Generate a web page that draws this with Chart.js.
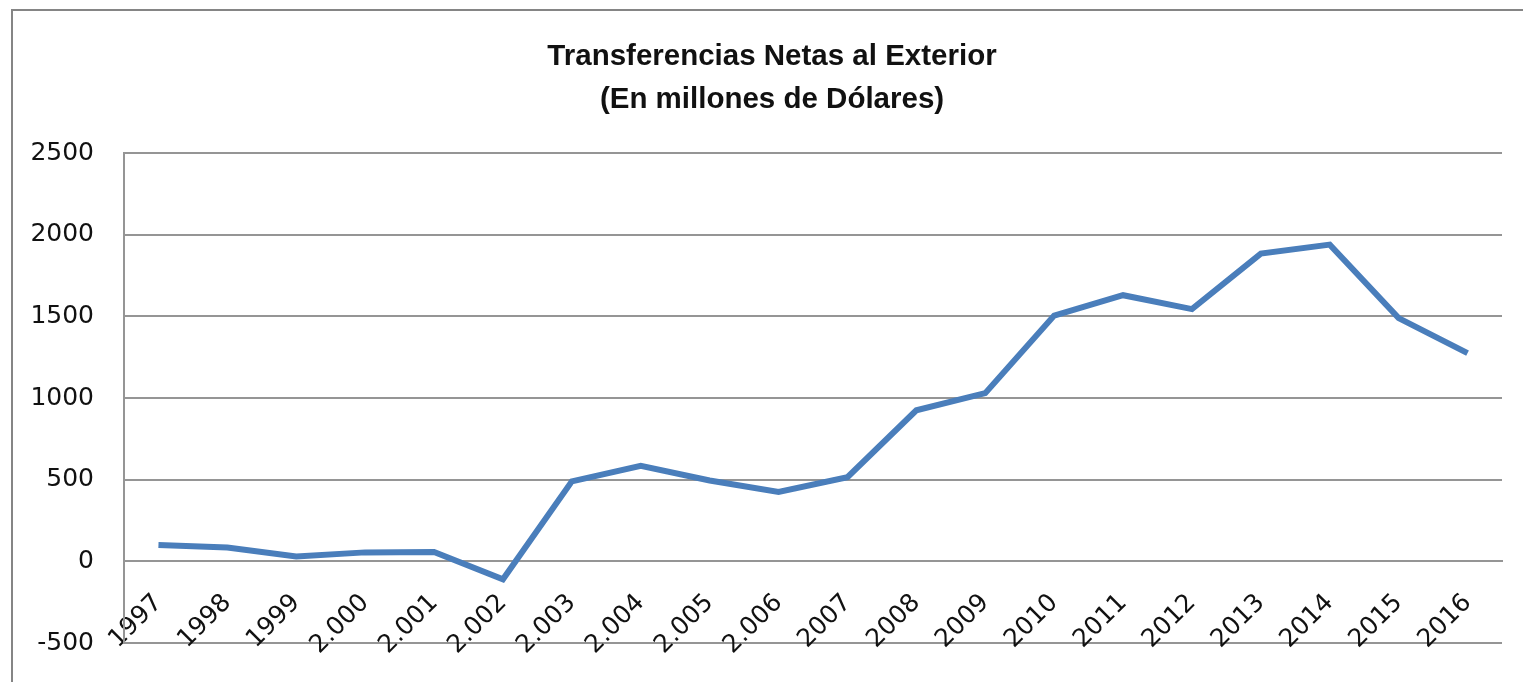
<!DOCTYPE html>
<html>
<head>
<meta charset="utf-8">
<title>Transferencias Netas al Exterior</title>
<script src="https://cdn.jsdelivr.net/npm/chart.js@4.4.1/dist/chart.umd.min.js"></script>
<style>
  html, body { margin: 0; padding: 0; background: #fff; overflow: hidden; }
  #wrap { position: relative; width: 1523px; height: 682px; }
  #frame {
    position: absolute; left: 11px; top: 9px; width: 1700px; height: 900px;
    border: 2px solid #858585; pointer-events: none;
  }
</style>
</head>
<body>
<div id="wrap">
  <canvas id="chart" width="1523" height="682"></canvas>
  <div id="frame"></div>
</div>
<script>
// data
var years = ["1997", "1998", "1999", "2.000", "2.001", "2.002", "2.003", "2.004", "2.005", "2.006",
             "2007", "2008", "2009", "2010", "2011", "2012", "2013", "2014", "2015", "2016"];
var transferencias = [100, 85, 30, 55, 58, -110, 490, 585, 495, 425,
                      515, 925, 1030, 1505, 1630, 1545, 1885, 1940, 1490, 1275];
var yMin = -500,
    yMax = 2500,
    yStep = 500;
var titleLines = ["Transferencias Netas al Exterior", "(En millones de Dólares)"];

var gridColor = "#959595";
var tickFont = { family: "'DejaVu Sans', Verdana, sans-serif", size: 25 };

var ctx = document.getElementById("chart");

var transferChart = new Chart(ctx, {
  type: "line",
  data: {
    labels: years,
    datasets: [
      {
        data: transferencias,
        borderColor: "#4a7ebb",
        borderWidth: 6,
        pointRadius: 0,
        tension: 0,
        fill: false
      }
    ]
  },
  options: {
    responsive: false,
    animation: false,
    // negative right padding pushes the title centre right,
    // the empty right axis gives the plot its edge back
    layout: { padding: { top: 0, left: 0, right: -21, bottom: 39 } },
    plugins: {
      legend: { display: false },
      tooltip: { enabled: false },
      title: {
        display: true,
        text: titleLines,
        color: "#111",
        font: { family: "'Liberation Sans', Arial, sans-serif", size: 29.5, weight: "bold", lineHeight: 1.46 },
        padding: { top: 35, bottom: 32 }
      }
    },
    scales: {
      x: {
        position: { y: 0 },
        offset: true,
        grid: { display: false, drawTicks: false },
        border: { display: true, color: gridColor, width: 2 },
        ticks: {
          autoSkip: false,
          maxRotation: 45,
          minRotation: 45,
          padding: 27,
          color: "#111",
          font: tickFont
        }
      },
      y: {
        min: yMin,
        max: yMax,
        afterFit: function (scale) { scale.width = 124; },
        // invisible tick marks keep the labels off the axis without
        // the tick padding eating into the plot height
        grid: { color: gridColor, lineWidth: 2, drawTicks: true, tickLength: 30, tickColor: "rgba(0,0,0,0)" },
        border: { display: true, color: gridColor, width: 2 },
        ticks: {
          stepSize: yStep,
          padding: 0,
          color: "#111",
          font: tickFont,
          callback: function (value) { return String(value); }
        }
      },
      spacer: {
        type: "linear",
        position: "right",
        afterFit: function (scale) { scale.width = 42; },
        grid: { display: false, drawTicks: false },
        border: { display: false },
        ticks: { display: false }
      }
    }
  }
});
</script>
</body>
</html>
